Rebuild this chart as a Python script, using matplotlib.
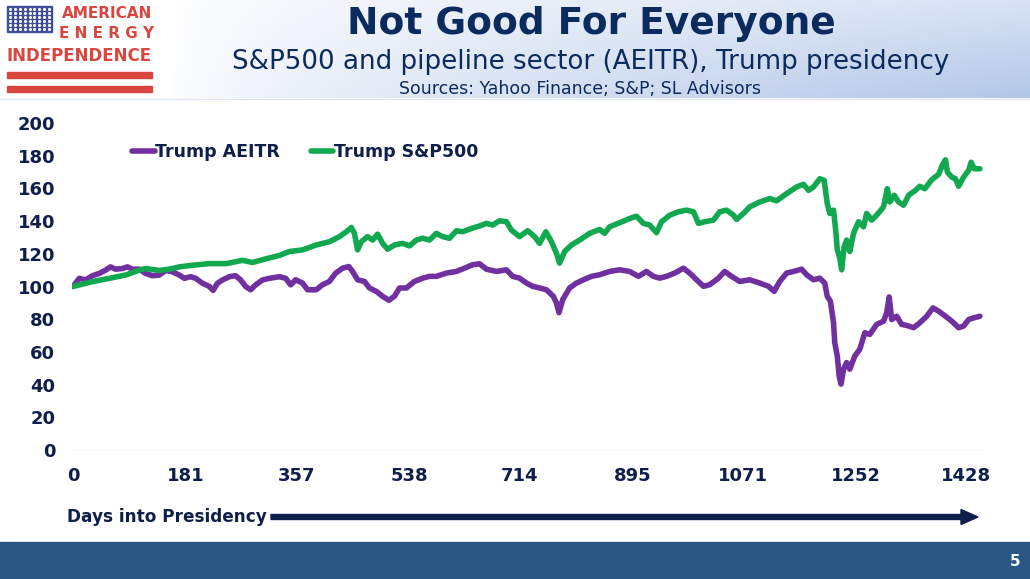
import numpy as np
import matplotlib
matplotlib.use("Agg")
import matplotlib.pyplot as plt
from matplotlib.patches import Rectangle, FancyArrow

# ---- data ----
aeitr_days = [0, 10, 20, 31, 42, 52, 60, 68, 79, 87, 95, 106, 116, 127, 138, 148, 159, 170,
              178, 188, 196, 207, 218, 224, 231, 239, 250, 260, 268, 276, 284, 292, 303, 314,
              330, 340, 348, 356, 367, 375, 389, 399, 410, 420, 431, 441, 447, 455, 466, 474,
              485, 495, 505, 514, 522, 533, 546, 559, 570, 581, 597, 613, 626, 639, 650, 661,
              677, 693, 703, 714, 725, 735, 746, 757, 768, 773, 777, 783, 794, 805, 816, 829,
              842, 858, 874, 890, 904, 917, 928, 938, 949, 962, 976, 986, 997, 1008, 1018, 1032,
              1042, 1053, 1066, 1082, 1098, 1112, 1121, 1130, 1141, 1152, 1165, 1173, 1184, 1194,
              1202, 1206, 1211, 1216, 1218, 1222, 1225, 1228, 1232, 1237, 1242, 1250, 1258, 1266,
              1274, 1285, 1296, 1301, 1305, 1309, 1317, 1325, 1333, 1344, 1354, 1365, 1375, 1384,
              1395, 1405, 1416, 1424, 1432, 1440, 1450]
aeitr_vals = [100, 105, 104, 106.6, 108, 110, 112, 110.6, 111, 112, 110.6, 110.6, 108, 106.6, 107,
              109.8, 109, 107, 105, 106, 105, 102, 100, 97.6, 102, 104, 106, 106.6, 104, 100, 98,
              101, 104, 105, 106, 105, 101, 104.1, 102.1, 98, 98, 101.1, 103.1, 108.2, 111.2,
              112.2, 109.2, 104.1, 103.1, 99.1, 97, 94, 91.6, 94, 99.1, 99.1, 103.1, 105.1, 106.2,
              106.2, 108.2, 109.2, 111.2, 113.3, 113.9, 110.6, 109.2, 110.2, 106.2, 105.1, 102.1,
              100.1, 99.1, 98, 94, 89.9, 84, 92, 99.1, 102.1, 104.1, 106.2, 107.2, 109.2, 110.2,
              109.2, 106.2, 109.2, 106.2, 105.1, 106.2, 108.2, 111.2, 108.2, 104.1, 100.1, 101.1,
              105.1, 109.2, 106.2, 103.1, 104.1, 102.1, 100.1, 97, 103.1, 108.2, 109.2, 110.6,
              107.2, 104.1, 105.1, 102.1, 94, 91, 77.8, 65.6, 57.5, 45.4, 40.3, 49.4, 53.5, 49.4,
              57.5, 61.6, 71.7, 70.7, 76.8, 78.8, 83.9, 93.6, 79.8, 81.8, 76.8, 76.2, 74.8, 77.8,
              81.8, 86.9, 84.9, 81.8, 78.8, 74.8, 75.8, 79.8, 80.8, 81.8]

spx_days = [0, 31, 58, 84, 106, 116, 138, 154, 170, 191, 218, 245, 271, 287, 309, 330, 346, 367,
            389, 410, 426, 437, 445, 450, 455, 461, 471, 479, 487, 495, 503, 514, 527, 538, 549,
            559, 570, 581, 591, 602, 613, 623, 637, 650, 661, 671, 682, 693, 701, 714, 727, 738,
            746, 756, 765, 773, 778, 786, 797, 810, 826, 842, 850, 858, 874, 890, 901, 912, 922,
            933, 941, 954, 968, 981, 992, 1000, 1010, 1024, 1034, 1045, 1056, 1061, 1072, 1082,
            1098, 1114, 1125, 1141, 1157, 1168, 1176, 1184, 1194, 1201, 1206, 1210, 1216, 1220,
            1222, 1226, 1229, 1233, 1237, 1242, 1248, 1256, 1264, 1269, 1277, 1285, 1296, 1302,
            1306, 1313, 1320, 1328, 1336, 1347, 1354, 1362, 1373, 1384, 1391, 1395, 1398, 1405,
            1411, 1416, 1424, 1432, 1436, 1441, 1450]
spx_vals = [100, 103, 105, 107, 110, 111, 109.8, 110.6, 112, 113, 114, 114, 116, 114.7, 117, 119,
            121.4, 122.4, 125.4, 127.4, 130.5, 133.5, 136.1, 132.5, 122.4, 127.4, 130.5, 128.4,
            132, 126.4, 122.8, 125.4, 126.4, 124.8, 128.4, 129.5, 128.4, 132.5, 130.5, 129.5,
            134.1, 133.5, 135.5, 137, 138.6, 137.6, 140.2, 139.6, 134.5, 130.5, 134.1, 130.5,
            126.4, 133.5, 127.4, 120.3, 114.3, 121.4, 125.4, 128.4, 132.5, 134.9, 132.5, 136.5,
            139, 141.6, 143, 138.6, 137.6, 132.9, 139.6, 143.6, 145.7, 146.7, 145.7, 138.6,
            139.6, 140.6, 145.7, 146.7, 143.6, 141, 144.7, 148.7, 151.7, 153.8, 152.4, 156.8,
            160.9, 162.5, 158.8, 160.9, 165.9, 164.9, 150.7, 144.7, 146.7, 132.5, 122.4, 117.3,
            110.2, 124.4, 128.4, 121.4, 132.5, 139.6, 136.5, 144.7, 140.6, 143.6, 148.7, 159.8,
            151.7, 155.8, 151.7, 149.7, 155.8, 158.8, 161.3, 159.8, 165.3, 168.6, 175, 177.5,
            170, 166.9, 165.9, 161.3, 166.9, 171, 176, 172, 172]

x_ticks = [0, 181, 357, 538, 714, 895, 1071, 1252, 1428]
y_ticks = list(range(0, 201, 20))

NAVY = "#0F1F4B"
TITLE_NAVY = "#0B2A5E"
PURPLE = "#7030A0"
GREEN = "#12A84F"
RED = "#D9463F"

W, H = 1030, 579
fig = plt.figure(figsize=(W / 100, H / 100), dpi=100)
fig.patch.set_facecolor("white")

# background layer in pixel coordinates
bg = fig.add_axes([0, 0, 1, 1])
bg.set_xlim(0, W)
bg.set_ylim(H, 0)
bg.axis("off")

# header gradient
gx = np.linspace(0, 1, 400)
gy = np.linspace(0, 1, 60)
wx = np.clip((gx * W - 170) / (W - 170), 0, 1) ** 0.7
w = wx[None, :] * (0.5 + 0.5 * gy[:, None])
c0 = np.array([1.0, 1.0, 1.0])
c1 = np.array([0.70, 0.78, 0.91])
grad = c0[None, None, :] * (1 - w[..., None]) + c1[None, None, :] * w[..., None]
bg.imshow(grad, extent=[0, W, 98, 0], aspect="auto", zorder=0)
bg.plot([0, W], [98.5, 98.5], color="#DCE5F2", lw=1, zorder=1)

# logo
bg.add_patch(Rectangle((0, 0), 155, 97, color="white", zorder=2))
bg.add_patch(Rectangle((7, 6), 45, 26, color="#3F4F9E", zorder=3))
sx, sy = np.meshgrid(np.linspace(10, 49, 9), np.linspace(9, 29, 6))
bg.scatter(sx.ravel(), sy.ravel(), s=1.5, color="white", zorder=4)
bg.text(107, 14, "AMERICAN", color=RED, fontsize=11, fontweight="bold",
        ha="center", va="center", zorder=4)
bg.text(107, 33, "E N E R G Y", color=RED, fontsize=11, fontweight="bold",
        ha="center", va="center", zorder=4)
bg.text(79.5, 56, "INDEPENDENCE", color=RED, fontsize=12, fontweight="bold",
        ha="center", va="center", zorder=4)
bg.add_patch(Rectangle((7, 72), 145, 5.5, color=RED, zorder=3))
bg.add_patch(Rectangle((7, 86), 145, 5.5, color=RED, zorder=3))

# titles
bg.text(591, 34, "Not Good For Everyone", color=TITLE_NAVY, fontsize=27,
        fontweight="bold", ha="center", va="baseline", zorder=5)
bg.text(591, 69, "S&P500 and pipeline sector (AEITR), Trump presidency", color=TITLE_NAVY,
        fontsize=18.8, ha="center", va="baseline", zorder=5)
bg.text(580, 94, "Sources: Yahoo Finance; S&P; SL Advisors", color=TITLE_NAVY,
        fontsize=12.5, ha="center", va="baseline", zorder=5)

# axis caption with arrow
bg.text(67, 517, "Days into Presidency", color=NAVY, fontsize=12.2, fontweight="bold",
        ha="left", va="center", zorder=5)
bg.add_patch(FancyArrow(271, 517, 707, 0, width=5, head_width=15, head_length=17,
                        length_includes_head=True, color=NAVY, zorder=5))

# footer
bg.add_patch(Rectangle((0, 542), W, H - 542, color="#2B5785", zorder=2))
bg.text(1015, 562, "5", color="white", fontsize=11, fontweight="bold",
        ha="center", va="center", zorder=5)

# chart
left_px, right_px, top_px, bottom_px = 72, 983, 123, 450
ax = fig.add_axes([left_px / W, 1 - bottom_px / H, (right_px - left_px) / W,
                   (bottom_px - top_px) / H])
ax.patch.set_alpha(0)
ax.plot(aeitr_days, aeitr_vals, color=PURPLE, lw=4.0, solid_joinstyle="round",
        solid_capstyle="round", label="Trump AEITR", zorder=3)
ax.plot(spx_days, spx_vals, color=GREEN, lw=4.0, solid_joinstyle="round",
        solid_capstyle="round", label="Trump S&P500", zorder=4)
ax.axhline(0, color="#D9D9D9", lw=1, zorder=1)
ax.set_xlim(-1.6, 1455)
ax.set_ylim(0, 200)
ax.set_xticks(x_ticks)
ax.set_xticklabels([str(t) for t in x_ticks])
ax.set_yticks(y_ticks)
for s in ax.spines.values():
    s.set_visible(False)
ax.tick_params(axis="both", length=0, colors=NAVY, labelsize=13)
ax.tick_params(axis="x", pad=12)
ax.tick_params(axis="y", pad=12)
for lab in ax.get_xticklabels() + ax.get_yticklabels():
    lab.set_fontweight("bold")

leg = ax.legend(loc="center left", bbox_to_anchor=(132 / W, 1 - 152 / H),
                bbox_transform=fig.transFigure, ncol=2, frameon=False,
                handlelength=1.3, handletextpad=0.05, columnspacing=1.75,
                borderpad=0, borderaxespad=0, prop={"weight": "bold", "size": 12.5})
for t in leg.get_texts():
    t.set_color(NAVY)

fig.savefig("out.png", dpi=100)
